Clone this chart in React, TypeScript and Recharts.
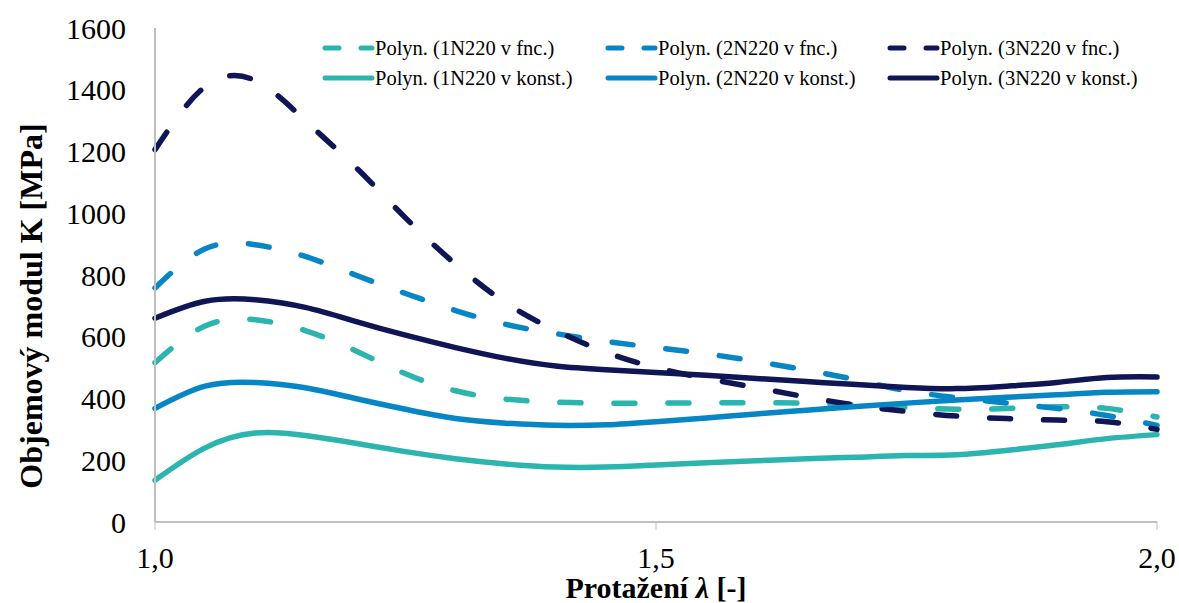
import { LineChart, Line, XAxis, YAxis, Legend } from "recharts";

// protažení λ
const lambda = [1.0, 1.05, 1.1, 1.15, 1.2, 1.25, 1.3, 1.35, 1.4, 1.45, 1.5, 1.55, 1.6, 1.65, 1.7, 1.75, 1.8, 1.85, 1.9, 1.95, 2.0];

// objemový modul K [MPa]
const fnc1N = [516, 635, 655, 620, 555, 480, 425, 398, 388, 385, 385, 386, 386, 385, 380, 372, 365, 368, 373, 368, 340];
const fnc2N = [758, 885, 898, 860, 800, 740, 685, 640, 610, 585, 565, 545, 520, 492, 460, 425, 403, 385, 368, 345, 313];
const fnc3N = [1206, 1410, 1430, 1300, 1150, 985, 835, 710, 620, 550, 500, 465, 435, 405, 378, 358, 343, 335, 330, 325, 300];
const konst1N = [135, 240, 288, 280, 255, 228, 205, 188, 178, 178, 185, 192, 198, 205, 210, 215, 218, 232, 250, 270, 283];
const konst2N = [368, 440, 452, 435, 400, 365, 335, 320, 313, 315, 325, 337, 350, 362, 374, 385, 395, 404, 412, 420, 422];
const konst3N = [660, 715, 720, 695, 650, 605, 565, 530, 505, 493, 484, 475, 465, 455, 445, 436, 432, 440, 452, 468, 470];

const yTicks = [0, 200, 400, 600, 800, 1000, 1200, 1400, 1600];
const xTicks = [1.0, 1.5, 2.0];

const TEAL = "#2BB5AE";
const BLUE = "#0786C5";
const NAVY = "#0F1555";
const DASH = "21 33";
const FONT = "'Liberation Serif', 'Times New Roman', serif";

const series = [
  { key: "fnc1N", name: "Polyn. (1N220 v fnc.)", color: TEAL, dashed: true },
  { key: "fnc2N", name: "Polyn. (2N220 v fnc.)", color: BLUE, dashed: true },
  { key: "fnc3N", name: "Polyn. (3N220 v fnc.)", color: NAVY, dashed: true },
  { key: "konst1N", name: "Polyn. (1N220 v konst.)", color: TEAL, dashed: false },
  { key: "konst2N", name: "Polyn. (2N220 v konst.)", color: BLUE, dashed: false },
  { key: "konst3N", name: "Polyn. (3N220 v konst.)", color: NAVY, dashed: false },
];

const data = lambda.map((l, i) => ({
  lambda: l,
  fnc1N: fnc1N[i],
  fnc2N: fnc2N[i],
  fnc3N: fnc3N[i],
  konst1N: konst1N[i],
  konst2N: konst2N[i],
  konst3N: konst3N[i],
}));

function LegendBox() {
  return (
    <div
      style={{
        display: "grid",
        gridTemplateColumns: "283px 282px 260px",
        rowGap: 8,
        fontFamily: FONT,
        fontSize: 20.5,
        color: "#000",
      }}
    >
      {series.map((s) => (
        <div key={s.key} style={{ display: "flex", alignItems: "center", height: 22 }}>
          <svg width={53} height={10}>
            <line
              x1={3}
              y1={5}
              x2={50}
              y2={5}
              stroke={s.color}
              strokeWidth={5}
              strokeLinecap="round"
              strokeDasharray={s.dashed ? "14 22" : undefined}
            />
          </svg>
          <span style={{ whiteSpace: "nowrap" }}>{s.name}</span>
        </div>
      ))}
    </div>
  );
}

function XTitle(props: any) {
  const { viewBox } = props;
  const cx = viewBox.x + viewBox.width / 2;
  return (
    <text x={cx} y={598} textAnchor="middle" fontFamily={FONT} fontSize={30} fontWeight="bold" fill="#000">
      Protažení <tspan fontStyle="italic">λ</tspan>{"  [-]"}
    </text>
  );
}

function YTitle() {
  return (
    <text
      x={0}
      y={0}
      transform="translate(42, 306) rotate(-90)"
      textAnchor="middle"
      fontFamily={FONT}
      fontSize={32}
      fontWeight="bold"
      fill="#000"
    >
      Objemový modul K [MPa]
    </text>
  );
}

export default function App() {
  return (
    <div style={{ position: "absolute", left: 0, top: 0, width: 1179, height: 603, background: "#fff" }}>
      <LineChart width={1179} height={603} data={data} margin={{ top: 28, right: 22, bottom: 0, left: 0 }}>
        <XAxis
          dataKey="lambda"
          type="number"
          domain={[1, 2]}
          ticks={xTicks}
          tickFormatter={(v: number) => v.toFixed(1).replace(".", ",")}
          axisLine={{ stroke: "#BFBFBF", strokeWidth: 2 }}
          tickLine={{ stroke: "#BFBFBF", strokeWidth: 1 }}
          tickSize={8}
          tickMargin={17}
          height={81}
          tick={{ fill: "#000", fontSize: 30, fontFamily: FONT }}
          label={<XTitle />}
        />
        <YAxis
          yAxisId="left"
          domain={[0, 1600]}
          ticks={yTicks}
          width={155}
          axisLine={{ stroke: "#BFBFBF", strokeWidth: 2 }}
          tickLine={false}
          tickSize={0}
          tickMargin={29}
          interval={0}
          tick={{ fill: "#000", fontSize: 30, fontFamily: FONT }}
          label={<YTitle />}
        />
        <YAxis
          yAxisId="right"
          orientation="right"
          domain={[0, 1600]}
          width={0}
          tick={false}
          tickLine={false}
          axisLine={{ stroke: "#BFBFBF", strokeWidth: 2 }}
        />
        <Legend
          layout="vertical"
          verticalAlign="middle"
          align="center"
          content={() => <LegendBox />}
          wrapperStyle={{ position: "absolute", left: 322, top: 37, width: 840, height: 60 }}
        />
        {series.map((s) => (
          <Line
            key={s.key}
            yAxisId="left"
            dataKey={s.key}
            name={s.name}
            type="natural"
            stroke={s.color}
            strokeWidth={5.5}
            strokeLinecap="round"
            strokeDasharray={s.dashed ? DASH : undefined}
            dot={false}
            activeDot={false}
            isAnimationActive={false}
          />
        ))}
      </LineChart>
    </div>
  );
}
